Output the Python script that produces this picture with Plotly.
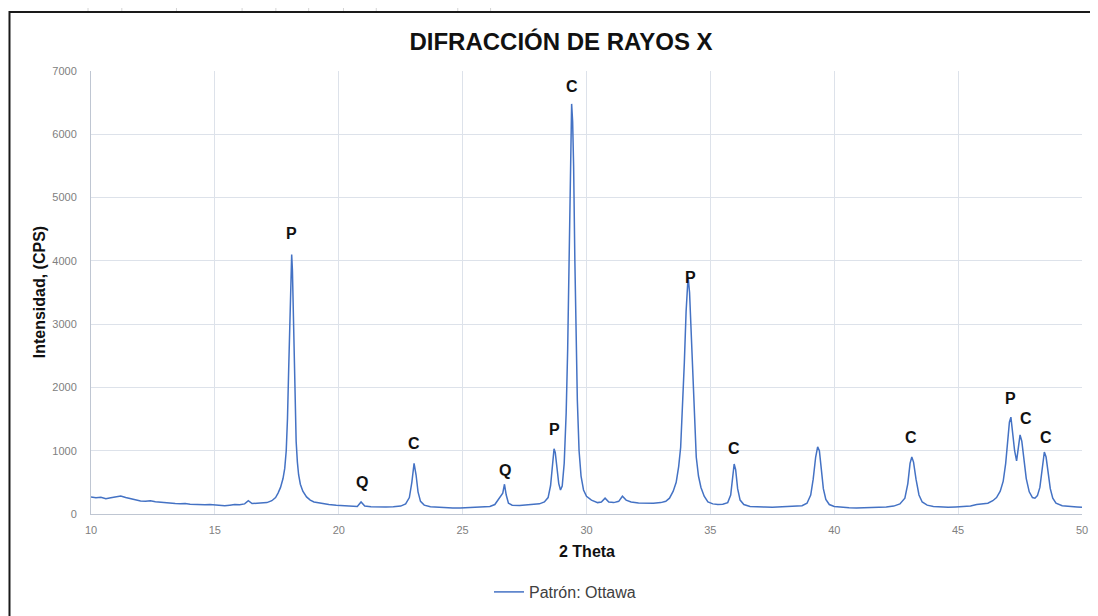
import plotly.graph_objects as go

# ---- data ----
two_theta = [
    10.0, 10.2, 10.4, 10.6, 10.8, 11.0, 11.2, 11.4, 11.6, 11.8, 12.0, 12.2, 12.4, 12.6, 12.8,
    13.0, 13.2, 13.4, 13.6, 13.8, 14.0, 14.2, 14.4, 14.6, 14.8, 15.0, 15.2, 15.4, 15.6, 15.8,
    16.0, 16.2, 16.35, 16.5, 16.7, 16.9, 17.1, 17.3, 17.45, 17.55, 17.65, 17.75, 17.82, 17.88,
    17.93, 17.98, 18.03, 18.07, 18.1, 18.13, 18.16, 18.2, 18.24, 18.28, 18.33, 18.38, 18.45,
    18.55, 18.7, 18.85, 19.0, 19.3, 19.6, 19.9, 20.2, 20.5, 20.75, 20.9, 21.05, 21.3, 21.6,
    21.9, 22.2, 22.5, 22.7, 22.85, 22.95, 23.04, 23.12, 23.2, 23.3, 23.45, 23.7, 24.0, 24.3,
    24.6, 24.9, 25.2, 25.5, 25.8, 26.1, 26.3, 26.45, 26.55, 26.62, 26.69, 26.76, 26.85, 27.0,
    27.3, 27.6, 27.9, 28.1, 28.3, 28.45, 28.55, 28.63, 28.69, 28.74, 28.8, 28.88, 28.95, 29.02,
    29.1, 29.18, 29.24, 29.3, 29.35, 29.4, 29.44, 29.48, 29.53, 29.58, 29.63, 29.7, 29.78,
    29.88, 30.0, 30.2, 30.45, 30.6, 30.75, 30.9, 31.1, 31.3, 31.45, 31.6, 31.8, 32.1, 32.4,
    32.7, 33.0, 33.2, 33.35, 33.5, 33.62, 33.72, 33.8, 33.88, 33.95, 34.02, 34.1, 34.16, 34.22,
    34.29, 34.36, 34.43, 34.52, 34.62, 34.75, 34.9, 35.1, 35.3, 35.5, 35.7, 35.82, 35.9, 35.96,
    36.02, 36.1, 36.2, 36.35, 36.6, 36.9, 37.2, 37.5, 37.8, 38.1, 38.4, 38.7, 38.9, 39.05,
    39.15, 39.25, 39.33, 39.4, 39.48, 39.56, 39.66, 39.8, 40.0, 40.3, 40.6, 40.9, 41.2, 41.5,
    41.8, 42.1, 42.4, 42.65, 42.85, 42.97, 43.06, 43.13, 43.2, 43.3, 43.42, 43.55, 43.75, 44.0,
    44.3, 44.6, 44.9, 45.2, 45.5, 45.75, 46.0, 46.2, 46.4, 46.55, 46.7, 46.82, 46.92, 47.0,
    47.07, 47.13, 47.2, 47.28, 47.36, 47.43, 47.5, 47.57, 47.65, 47.75, 47.87, 48.0, 48.1,
    48.2, 48.3, 48.4, 48.48, 48.55, 48.63, 48.72, 48.82, 48.95, 49.2, 49.5, 49.8, 50.0,
]
intensity_cps = [
    270, 255, 265, 240, 255, 270, 285, 260, 240, 220, 205, 200, 210, 195, 185,
    175, 170, 165, 160, 165, 155, 150, 155, 145, 150, 140, 135, 130, 140, 150,
    145, 160, 210, 165, 170, 175, 180, 210, 260, 330, 420, 560, 720, 1000,
    1500, 2300, 3200, 3900, 4100, 3850, 3200, 2300, 1600, 1150, 820, 620, 470,
    360, 270, 220, 190, 165, 150, 140, 130, 125, 120, 190, 125, 115, 110,
    110, 115, 125, 160, 260, 500, 800, 620, 350, 200, 140, 115, 105, 100,
    95, 95, 100, 105, 110, 120, 150, 230, 280, 330, 470, 300, 170, 140,
    135, 140, 150, 160, 190, 260, 450, 800, 1030, 970, 750, 480, 380, 440,
    800, 1600, 2600, 4000, 5500, 6480, 6200, 5500, 4000, 2800, 1800, 1000, 600,
    380, 280, 220, 180, 190, 250, 190, 180, 200, 280, 220, 190, 175, 170,
    170, 180, 200, 250, 360, 500, 750, 1050, 1700, 2400, 3200, 3750, 3500, 2900,
    2000, 1350, 900, 600, 420, 280, 190, 160, 150, 155, 180, 300, 550, 790,
    700, 400, 220, 150, 120, 110, 110, 105, 110, 110, 115, 130, 170, 300,
    550, 900, 1060, 1000, 700, 400, 230, 150, 120, 105, 100, 95, 95, 100,
    105, 110, 125, 160, 250, 480, 800, 900, 820, 550, 300, 190, 140, 120,
    110, 105, 110, 115, 125, 150, 155, 170, 210, 260, 360, 520, 800, 1150,
    1450, 1530, 1300, 1000, 840, 1050, 1250, 1150, 850, 560, 350, 260, 250,
    290, 420, 750, 980, 900, 650, 400, 250, 170, 130, 115, 110, 105,
]

peak_labels = ["P", "Q", "C", "Q", "P", "C", "P", "C", "C", "P", "C", "C"]
label_x = [18.1, 20.95, 23.04, 26.7, 28.7, 29.4, 34.19, 35.95, 43.1, 47.1, 47.75, 48.55]
label_y = [4440, 505, 1120, 695, 1330, 6760, 3730, 1040, 1215, 1830, 1515, 1215]

x_ticks = [10, 15, 20, 25, 30, 35, 40, 45, 50]
y_ticks = [0, 1000, 2000, 3000, 4000, 5000, 6000, 7000]

FONT = "Arial, Liberation Sans, sans-serif"
# the page body has an 8px default margin, so the figure starts at (8, 8) in the window
OX, OY = 8, 8
W, H = 1098 - OX, 616 - OY
# plot area in window pixels: x 91..1088, y 71..514
L, R, T, B = 91 - OX, 1098 - 1088, 71 - OY, 616 - 514
PW, PH = W - L - R, H - T - B


def pxx(px):  # window x pixel -> paper x
    return (px - OX - L) / PW


def pxy(py):  # window y pixel -> paper y
    return (H - B - (py - OY)) / PH


fig = go.Figure()
fig.add_trace(go.Scatter(
    x=two_theta, y=intensity_cps, mode="lines", name="Patrón: Ottawa",
    line=dict(color="#4472C4", width=1.5),
))

annotations = []
for t, xx, yy in zip(peak_labels, label_x, label_y):
    annotations.append(dict(x=xx, y=yy, xref="x", yref="y", text=f"<b>{t}</b>",
                            xanchor="center", yanchor="middle",
                            showarrow=False, font=dict(family=FONT, size=16, color="#111111")))

# axis titles
annotations.append(dict(x=pxx(39), y=pxy(292), xref="paper", yref="paper",
                        xanchor="center", yanchor="middle",
                        text="<b>Intensidad, (CPS)</b>", textangle=-90, showarrow=False,
                        font=dict(family=FONT, size=16, color="#111111")))
annotations.append(dict(x=pxx(590), y=pxy(551), xref="paper", yref="paper",
                        xanchor="center", yanchor="middle",
                        text="<b>2 Theta</b>", showarrow=False,
                        font=dict(family=FONT, size=16, color="#111111")))

shapes = [
    # outer chart frame
    dict(type="rect", xref="paper", yref="paper",
         x0=pxx(9), x1=pxx(1104), y0=pxy(622), y1=pxy(12),
         line=dict(color="#1a1a1a", width=2), layer="below"),
]
# faint spreadsheet cell lines above the frame
for px in [88, 122, 177, 243, 277, 310, 345, 378, 460, 493]:
    shapes.append(dict(type="line", xref="paper", yref="paper", x0=pxx(px), x1=pxx(px),
                       y0=pxy(11), y1=pxy(8),
                       line=dict(color="#d4d4d4", width=1)))

fig.update_layout(
    width=W, height=H,
    margin=dict(l=L, r=R, t=T, b=B),
    paper_bgcolor="white", plot_bgcolor="white",
    title=dict(text="<b>DIFRACCIÓN DE RAYOS X</b>", x=(561 - OX) / W, xref="container",
               xanchor="center", y=1 - (42 - OY) / H, yref="container", yanchor="middle",
               font=dict(family=FONT, size=24, color="#111111")),
    xaxis=dict(range=[10, 50], tickvals=x_ticks, ticktext=[str(v) for v in x_ticks],
               showgrid=True, gridcolor="#dde2ea", gridwidth=1, zeroline=False,
               showline=True, linecolor="#bfc6d2", linewidth=1, ticks="",
               ticklabelstandoff=6,
               tickfont=dict(family=FONT, size=11, color="#808080")),
    yaxis=dict(range=[0, 7000], tickvals=y_ticks, ticktext=[str(v) for v in y_ticks],
               showgrid=True, gridcolor="#dde2ea", gridwidth=1, zeroline=False,
               showline=True, linecolor="#bfc6d2", linewidth=1, ticks="",
               ticklabelstandoff=11,
               tickfont=dict(family=FONT, size=11, color="#808080")),
    showlegend=True,
    legend=dict(orientation="h", x=(565 - OX) / W, xref="container", xanchor="center",
                y=1 - (592 - OY) / H, yref="container", yanchor="middle",
                font=dict(family=FONT, size=16, color="#404040"), bgcolor="rgba(0,0,0,0)"),
    annotations=annotations,
    shapes=shapes,
)

fig.write_html("out.html")
